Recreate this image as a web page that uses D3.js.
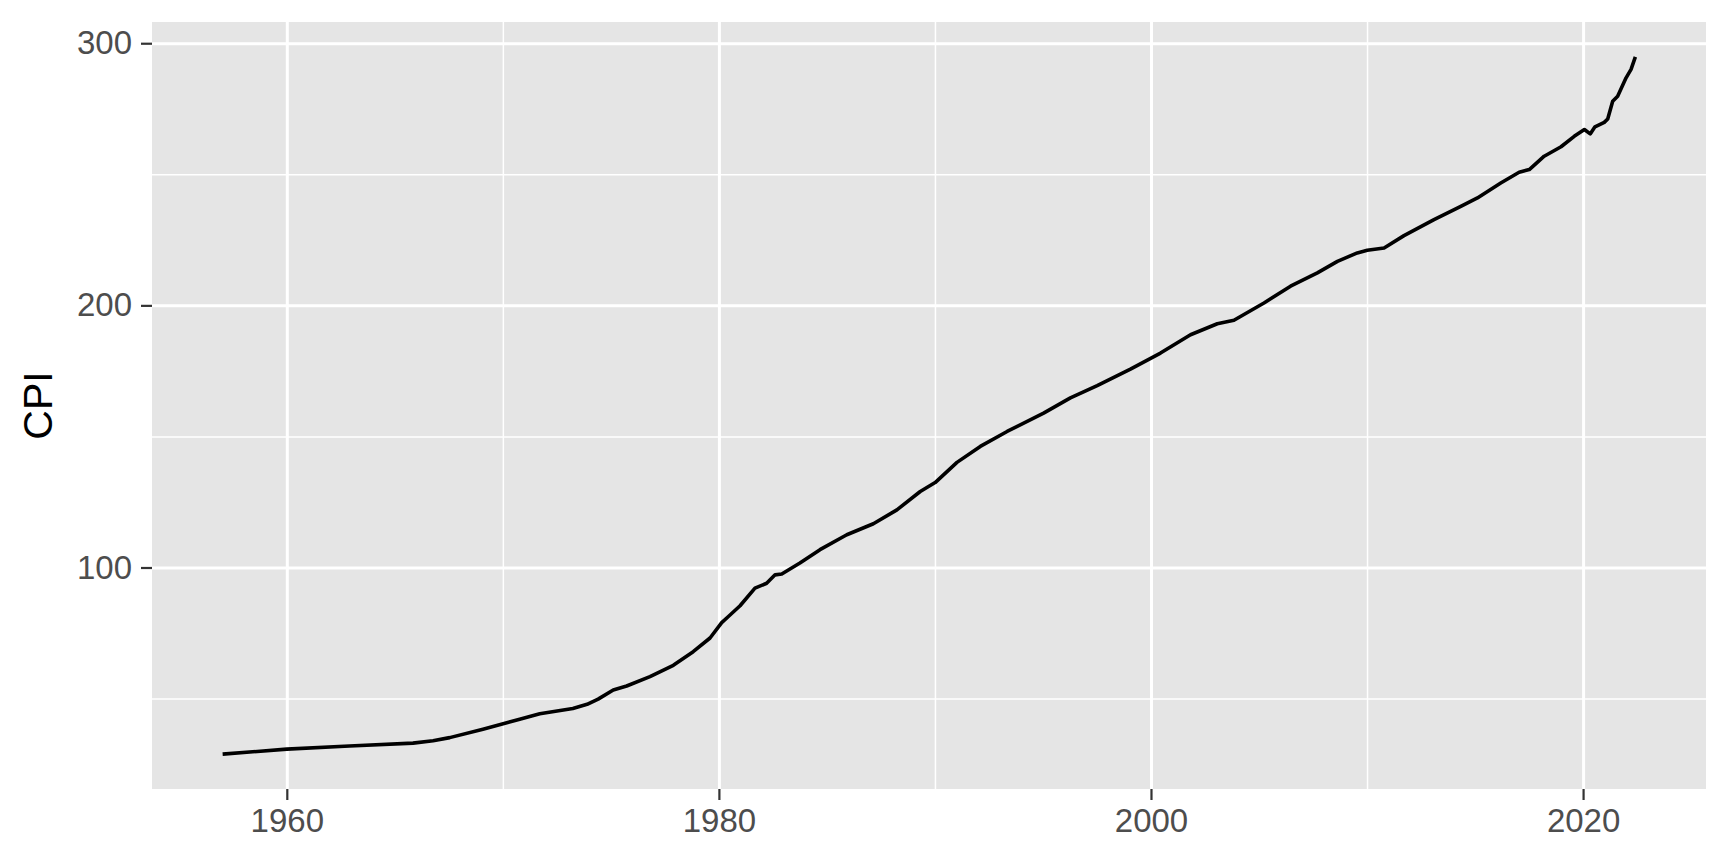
<!DOCTYPE html>
<html>
<head>
<meta charset="utf-8">
<script src="https://cdn.jsdelivr.net/npm/d3@7"></script>
<style>
  body { margin: 0; background: #fff; }
  svg { display: block; font-family: "Liberation Sans", Arial, sans-serif; }
  .axis path { display: none; }
  .axis text { fill: #4d4d4d; font-size: 33px; }
  .axis line { stroke: #333; stroke-width: 2.2px; }
  .grid path { display: none; }
  .grid line { stroke: #fff; }
</style>
</head>
<body>
<div id="chart"></div>
<script>
// ===== Data =====
let years = [1957.03, 1960.0, 1962.9, 1965.84, 1966.77, 1967.54, 1969.08, 1970.78, 1971.71, 1973.24,
  1973.9, 1974.41, 1975.11, 1975.73, 1976.81, 1977.89, 1978.81, 1979.59, 1980.13, 1980.44,
  1980.98, 1981.67, 1982.21, 1982.6, 1982.91, 1983.75, 1984.68, 1985.92, 1987.15, 1988.24,
  1989.32, 1990.01, 1991.02, 1992.1, 1993.34, 1995.03, 1996.27, 1997.51, 1999.05, 2000.44,
  2001.83, 2003.07, 2003.84, 2005.23, 2006.46, 2007.7, 2008.63, 2009.55, 2010.01, 2010.79,
  2011.71, 2013.1, 2014.34, 2015.11, 2016.19, 2017.04, 2017.51, 2018.2, 2018.98, 2019.59,
  2020.06, 2020.33, 2020.55, 2020.98, 2021.14, 2021.37, 2021.6, 2021.99, 2022.22, 2022.42];

let cpi = [28.8, 30.7, 31.9, 33.0, 33.9, 35.1, 38.3, 42.1, 44.2, 46.2,
  47.8, 49.8, 53.3, 54.8, 58.4, 62.7, 67.9, 73.1, 79.0, 81.3,
  85.4, 92.1, 94.0, 97.2, 97.5, 101.7, 106.8, 112.5, 116.7, 122.0,
  129.0, 132.4, 140.1, 146.2, 151.9, 158.9, 164.7, 169.4, 175.7, 181.8,
  188.8, 193.0, 194.3, 200.9, 207.3, 212.4, 216.8, 220.0, 221.0, 221.9,
  226.6, 232.7, 237.8, 241.0, 246.7, 250.8, 251.8, 256.9, 260.5, 264.5,
  267.1, 265.4, 268.1, 269.8, 271.1, 277.9, 279.8, 286.8, 290.0, 294.8];

let xMajor = [1960, 1980, 2000, 2020],
    xMinor = [1970, 1990, 2010],
    yMajor = [100, 200, 300],
    yMinor = [50, 150, 250];

let data = years.map((d, i) => ({year: d, cpi: cpi[i]}));

let margin = {top: 22, right: 22, bottom: 75, left: 152},
    width = 1728 - margin.left - margin.right,
    height = 864 - margin.top - margin.bottom;

// ggplot-style 5% expansion
let expand = ext => {
  let pad = (ext[1] - ext[0]) * 0.05;
  return [ext[0] - pad, ext[1] + pad];
};

let x = d3.scaleLinear().domain(expand(d3.extent(data, d => d.year))).range([0, width]),
    y = d3.scaleLinear().domain(expand(d3.extent(data, d => d.cpi))).range([height, 0]);

let svg = d3.select("#chart").append("svg")
    .attr("width", 1728)
    .attr("height", 864);

let g = svg.append("g")
    .attr("transform", "translate(" + margin.left + "," + margin.top + ")");

g.append("rect")
    .attr("width", width)
    .attr("height", height)
    .attr("fill", "#e5e5e5");

// ===== Grid =====
g.append("g").attr("class", "grid")
    .call(d3.axisLeft(y).tickValues(yMinor).tickSize(-width).tickFormat(""))
    .selectAll("line").attr("stroke-width", 1.5);
g.append("g").attr("class", "grid")
    .attr("transform", "translate(0," + height + ")")
    .call(d3.axisBottom(x).tickValues(xMinor).tickSize(-height).tickFormat(""))
    .selectAll("line").attr("stroke-width", 1.5);
g.append("g").attr("class", "grid")
    .call(d3.axisLeft(y).tickValues(yMajor).tickSize(-width).tickFormat(""))
    .selectAll("line").attr("stroke-width", 3);
g.append("g").attr("class", "grid")
    .attr("transform", "translate(0," + height + ")")
    .call(d3.axisBottom(x).tickValues(xMajor).tickSize(-height).tickFormat(""))
    .selectAll("line").attr("stroke-width", 3);

// ===== Line =====
g.append("path")
    .datum(data)
    .attr("fill", "none")
    .attr("stroke", "#000")
    .attr("stroke-width", 3.6)
    .attr("stroke-linejoin", "round")
    .attr("d", d3.line().x(d => x(d.year)).y(d => y(d.cpi)));

// ===== Axes =====
g.append("g")
    .attr("class", "axis axis--y")
    .call(d3.axisLeft(y).tickValues(yMajor).tickSize(11).tickPadding(9).tickFormat(d3.format("d")));

g.append("g")
    .attr("class", "axis axis--x")
    .attr("transform", "translate(0," + height + ")")
    .call(d3.axisBottom(x).tickValues(xMajor).tickSize(11).tickPadding(9).tickFormat(d3.format("d")));

svg.append("text")
    .attr("transform", "translate(52," + (margin.top + height / 2) + ") rotate(-90)")
    .attr("text-anchor", "middle")
    .attr("font-size", 41)
    .attr("fill", "#000")
    .text("CPI");
</script>
</body>
</html>
